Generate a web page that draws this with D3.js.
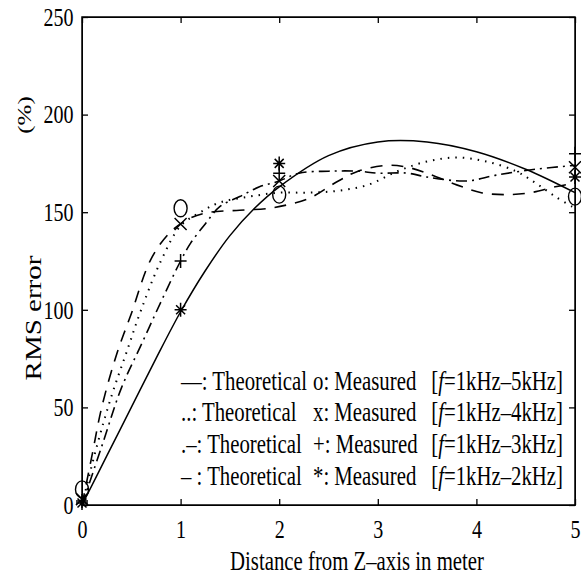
<!DOCTYPE html>
<html>
<head>
<meta charset="utf-8">
<script src="https://cdn.jsdelivr.net/npm/d3@7"></script>
<style>
  body { margin: 0; background: #fff; }
  text { font-family: "Liberation Serif", "Times New Roman", serif; fill: #000; }
</style>
</head>
<body>
<div id="chart"></div>
<script>
// RMS error vs distance from Z-axis, theoretical curves + measured markers

var xTicks = [0, 1, 2, 3, 4, 5];
var yTicks = [0, 50, 100, 150, 200, 250];
var measuredX = [0, 1, 2, 5];

// measured points
var measured5k = [8, 152, 159, 158];   // o
var measured4k = [3, 144, 166, 173];   // x
var measured3k = [2, 125, 170, 180];   // +
var measured2k = [1, 100, 175, 168];   // *

// theoretical curves, [distance, error]
var theory5k = [[0,0],[0.25,25],[0.5,50],[0.75,75],[1,99],[1.25,120],[1.5,138],[1.75,152],[2,163],
  [2.5,179],[3,186],[3.5,186],[4,181],[4.5,172],[5,160]];
var theory4k = [[0,0],[0.15,30],[0.3,56],[0.45,78],[0.6,100],[0.8,125],[1,143],[1.2,150],[1.4,155],
  [1.7,158],[2,160],[2.3,160],[2.6,161],[2.9,164],[3.2,171],[3.5,176],[3.8,178],[4.1,176],[4.4,171],
  [4.6,165],[4.8,158],[5,152]];
var theory3k = [[0,0],[0.2,30],[0.4,60],[0.6,82],[0.8,104],[1,125],[1.1,134],[1.25,144],[1.4,153],
  [1.6,158],[1.8,163],[2,166],[2.2,170],[2.5,171],[2.8,171],[3,170],[3.3,170],[3.5,168],[3.9,166],
  [4.2,169],[4.6,172],[5,174]];
var theory2k = [[0,0],[0.1,25],[0.2,50],[0.35,77],[0.5,98],[0.7,126],[0.9,140],[1.1,147],[1.3,150],
  [1.6,151],[1.9,152],[2.1,154],[2.3,157],[2.6,166],[2.8,171],[3.1,174],[3.3,173],[3.5,170],[3.8,164],
  [4.05,160],[4.3,159],[4.55,160],[4.8,163],[5,165]];

var legendKeys = ['\u2014:', '..:', '.\u2013:', '\u2013 :'];
var legendMarks = ['o:', 'x:', '+:', '*:'];
var legendRanges = ['5kHz', '4kHz', '3kHz', '2kHz'];

var width = 581;
var height = 577;
var plotLeft = 82, plotRight = 575, plotTop = 17, plotBottom = 505;
var squeeze = 0.77; // the scanned text is narrow
var fontSize = 27;

var svg = d3.select('#chart').append('svg')
      .attr('width', width)
      .attr('height', height);

var xScale = d3.scaleLinear().domain([0, 5]).range([plotLeft, plotRight]);
var yScale = d3.scaleLinear().domain([0, 250]).range([plotBottom, plotTop]);

// axes with inward ticks on all four sides
var axisFont = 26;
svg.append('g')
      .attr('transform', 'translate(0,' + plotBottom + ')')
      .call(d3.axisBottom(xScale).tickValues(xTicks).tickFormat(d3.format('d'))
            .tickSizeInner(-6).tickSizeOuter(0).tickPadding(15))
      .call(g => g.attr('font-size', axisFont).attr('font-family', null))
      .call(g => g.selectAll('text').attr('transform', 'scale(' + squeeze + ',1)'));
svg.append('g')
      .attr('transform', 'translate(' + plotLeft + ',0)')
      .call(d3.axisLeft(yScale).tickValues(yTicks).tickSizeInner(-6).tickSizeOuter(0).tickPadding(11))
      .call(g => g.attr('font-size', axisFont).attr('font-family', null))
      .call(g => g.selectAll('text').attr('transform', 'scale(' + squeeze + ',1)'));
svg.append('g')
      .attr('transform', 'translate(0,' + plotTop + ')')
      .call(d3.axisTop(xScale).tickValues(xTicks).tickSizeInner(-6).tickSizeOuter(0).tickFormat(''));
svg.append('g')
      .attr('transform', 'translate(' + plotRight + ',0)')
      .call(d3.axisRight(yScale).tickValues(yTicks).tickSizeInner(-6).tickSizeOuter(0).tickFormat(''));
svg.selectAll('.tick line').attr('stroke-width', 1.3);

svg.append('rect')
      .attr('x', plotLeft).attr('y', plotTop)
      .attr('width', plotRight - plotLeft).attr('height', plotBottom - plotTop)
      .attr('fill', 'none').attr('stroke', '#000').attr('stroke-width', 1.5);

// theoretical lines
var line = d3.line()
      .x(d => xScale(d[0]))
      .y(d => yScale(d[1]))
      .curve(d3.curveCatmullRom.alpha(0.5));

var curves = [
  { data: theory5k, dash: null, w: 1.5 },
  { data: theory4k, dash: '1.5,6', w: 2 },
  { data: theory3k, dash: '11,5,2,5', w: 1.6 },
  { data: theory2k, dash: '12,9', w: 1.6 }
];
curves.forEach(function(c) {
  svg.append('path')
        .attr('d', line(c.data))
        .attr('fill', 'none')
        .attr('stroke', '#000')
        .attr('stroke-width', c.w)
        .attr('stroke-dasharray', c.dash);
});

// marker shapes
var s = 6;
var markerPaths = {
  x: 'M' + (-s) + ',' + (-s) + 'L' + s + ',' + s + 'M' + (-s) + ',' + s + 'L' + s + ',' + (-s),
  plus: 'M' + (-s) + ',0L' + s + ',0M0,' + (-s - 1) + 'L0,' + (s + 1),
  star: 'M' + (-s) + ',0L' + s + ',0M0,' + (-s - 1) + 'L0,' + (s + 1) +
        'M' + (-s + 1.5) + ',' + (-s + 1.5) + 'L' + (s - 1.5) + ',' + (s - 1.5) +
        'M' + (-s + 1.5) + ',' + (s - 1.5) + 'L' + (s - 1.5) + ',' + (-s + 1.5)
};

function drawMarkers(values, kind) {
  var g = svg.append('g');
  values.forEach(function(v, i) {
    var px = xScale(measuredX[i]), py = yScale(v);
    if (kind === 'o') {
      g.append('ellipse')
            .attr('cx', px).attr('cy', py)
            .attr('rx', 6.5).attr('ry', 8.5)
            .attr('fill', 'none').attr('stroke', '#000').attr('stroke-width', 1.4);
    } else {
      g.append('path')
            .attr('transform', 'translate(' + px + ',' + py + ')')
            .attr('d', markerPaths[kind])
            .attr('fill', 'none').attr('stroke', '#000').attr('stroke-width', 1.5);
    }
  });
}
drawMarkers(measured5k, 'o');
drawMarkers(measured4k, 'x');
drawMarkers(measured3k, 'plus');
drawMarkers(measured2k, 'star');

// narrow text helper
function label(x, y, str, anchor, size) {
  return svg.append('g')
        .attr('transform', 'translate(' + x + ',' + y + ') scale(' + squeeze + ',1)')
      .append('text')
        .attr('text-anchor', anchor || 'start')
        .attr('font-size', size || fontSize)
        .text(str);
}

// legend
var rowY = [390, 421, 453, 485];
legendKeys.forEach(function(k, i) {
  label(181, rowY[i], k + ' Theoretical');
  label(313, rowY[i], legendMarks[i] + ' Measured');
  var t = label(563, rowY[i], '', 'end');
  t.append('tspan').text('[');
  t.append('tspan').attr('font-style', 'italic').text('f');
  t.append('tspan').text('=1kHz\u2013' + legendRanges[i] + ']');
});

// axis titles
label(357, 570, 'Distance from Z\u2013axis in meter', 'middle');

svg.append('text')
      .attr('transform', 'translate(41,318) rotate(-90) scale(1,' + squeeze + ')')
      .attr('text-anchor', 'middle')
      .attr('font-size', 29)
      .text('RMS error');
svg.append('text')
      .attr('transform', 'translate(31,115) rotate(-90) scale(1,' + squeeze + ')')
      .attr('text-anchor', 'middle')
      .attr('font-size', 25)
      .text('(%)');
</script>
</body>
</html>
